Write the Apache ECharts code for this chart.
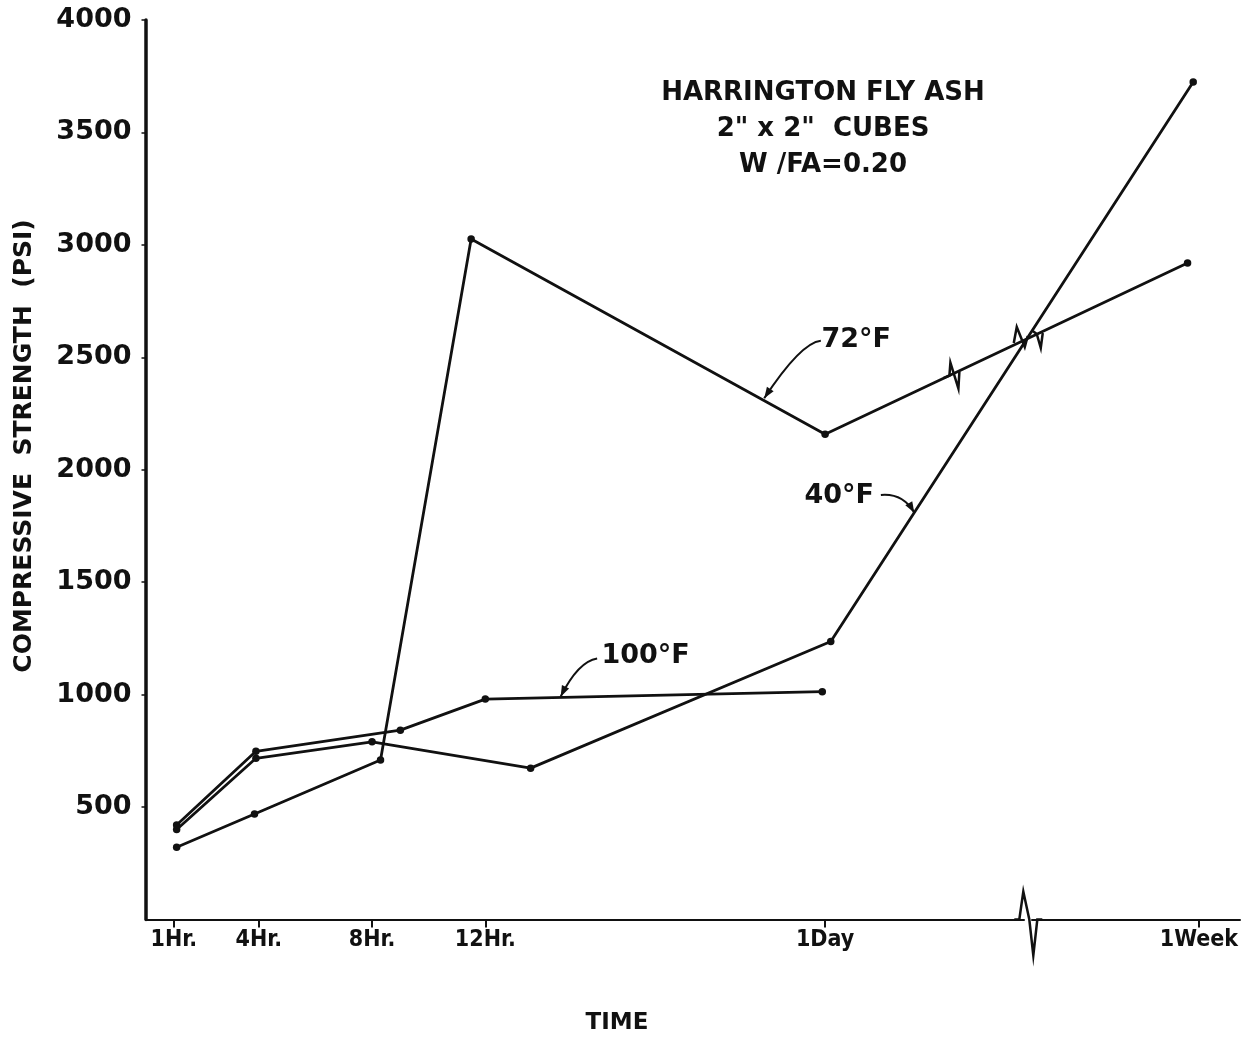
<!DOCTYPE html>
<html>
<head>
<meta charset="utf-8">
<script src="https://cdn.jsdelivr.net/npm/echarts@6/dist/echarts.min.js"></script>
<style>
html,body{margin:0;padding:0;background:#fff;}
#c{width:1241px;height:1041px;}
</style>
</head>
<body>
<div id="c"></div>
<script>
// ---- data (hours after mixing, compressive strength in psi) ----
const xTickHours = [1, 4, 8, 12, 24, 168];
const xTickLabels = ['1Hr.', '4Hr.', '8Hr.', '12Hr.', '1Day', '1Week'];
const yTicks = [500, 1000, 1500, 2000, 2500, 3000, 3500, 4000];

const hours72 = [1.1, 3.85, 8.3, 11.5, 24.0, 167.6];
const psi72   = [321, 469, 709, 3026, 2158, 2919];

const hours40 = [1.1, 3.9, 8.0, 13.6, 24.2, 167.8];
const psi40   = [400, 717, 790, 673, 1236, 3724];

const hours100 = [1.1, 3.9, 9.0, 12.0, 23.9];
const psi100   = [420, 748, 842, 980, 1013];

const titleLines = ['HARRINGTON FLY ASH', '2" x 2"  CUBES', 'W /FA=0.20'];

const FONT = "'DejaVu Sans', 'Noto Sans', sans-serif";
const FONT_C = "'DejaVu Sans Condensed', 'DejaVu Sans', sans-serif";
const INK = '#111';

const chart = echarts.init(document.getElementById('c'), null, {renderer: 'canvas'});
const pairs = (h, v) => h.map((x, i) => [x, v[i]]);
const lineBase = {
  type: 'line', symbol: 'circle', symbolSize: 7.5, showSymbol: true,
  lineStyle: {color: INK, width: 2.8}, itemStyle: {color: INK},
  emphasis: {disabled: true}, z: 3
};

chart.setOption({
  animation: false,
  backgroundColor: '#fff',
  title: {
    text: titleLines.join('\n'),
    left: 818, top: 70, textAlign: 'center',
    textStyle: {fontFamily: FONT, fontSize: 26, fontWeight: 'bold', lineHeight: 36, color: INK}
  },
  grid: {left: 145.5, right: 1, top: 20, bottom: 121.5, containLabel: false},
  xAxis: {
    type: 'value', min: 0, max: 169.45,
    breaks: [{start: 31, end: 162.1, gap: 0.3}],
    breakArea: {show: false},
    splitLine: {show: false},
    axisLine: {onZero: false, lineStyle: {color: INK, width: 2}},
    axisTick: {customValues: xTickHours, length: 8, lineStyle: {color: INK, width: 2}},
    axisLabel: {
      customValues: xTickHours,
      formatter: v => { const i = xTickHours.indexOf(v); return i >= 0 ? xTickLabels[i] : ''; },
      margin: 9, fontFamily: FONT_C, fontSize: 23, fontWeight: 'bold', color: INK
    }
  },
  yAxis: {
    type: 'value', min: 0, max: 4000, interval: 500,
    splitLine: {show: false},
    axisLine: {lineStyle: {color: INK, width: 3.5}},
    axisTick: {customValues: yTicks, length: 4, lineStyle: {color: INK, width: 1.5}},
    axisLabel: {
      customValues: yTicks, margin: 14,
      formatter: v => String(v),
      fontFamily: FONT, fontSize: 27, fontWeight: 'bold', color: INK
    }
  },
  series: [
    Object.assign({name: '72°F', data: pairs(hours72, psi72)}, lineBase),
    Object.assign({name: '40°F', data: pairs(hours40, psi40)}, lineBase),
    Object.assign({name: '100°F', data: pairs(hours100, psi100)}, lineBase)
  ]
});

// ---- annotations anchored in data space ----
const annotations = [
  {text: '72°F',  at: [25.1, 2577], from: [23.85, 2574], tip: [21.85, 2318], bend: [-20, 2]},
  {text: '40°F',  at: [24.5, 1883], from: [25.97, 1888], tip: [27.15, 1809], bend: [22, -2]},
  {text: '100°F', at: [17.66, 1172], from: [15.95, 1161], tip: [14.66, 991], bend: [-19, 3]}
];

function px(p) { return chart.convertToPixel({gridIndex: 0}, p); }

const g = [];
annotations.forEach(a => {
  const t = px(a.at), f = px(a.from), tp = px(a.tip);
  const c = [f[0] + a.bend[0], f[1] + a.bend[1]];
  g.push({type: 'text', x: t[0], y: t[1], z: 10,
    style: {text: a.text, fill: INK, font: 'bold 27px ' + FONT, align: 'center', verticalAlign: 'middle'}});
  g.push({type: 'bezierCurve', z: 10,
    shape: {x1: f[0], y1: f[1], cpx1: c[0], cpy1: c[1], x2: tp[0], y2: tp[1]},
    style: {stroke: INK, lineWidth: 2, fill: null}});
  const ang = Math.atan2(tp[1] - c[1], tp[0] - c[0]);
  const L = 11, W = 4;
  const bx = tp[0] - L * Math.cos(ang), by = tp[1] - L * Math.sin(ang);
  g.push({type: 'polygon', z: 10, shape: {points: [
    [tp[0], tp[1]],
    [bx + W * Math.sin(ang), by - W * Math.cos(ang)],
    [bx - W * Math.sin(ang), by + W * Math.cos(ang)]
  ]}, style: {fill: INK}});
});

// axis-break squiggle on the time axis
const b0 = px([31, 0]);
const xb = b0[0] + 3, y0 = b0[1];
g.push({type: 'polyline', z: 11, shape: {points: [
  [xb - 12, y0], [xb - 7, y0], [xb - 3, y0 - 28], [xb + 3, y0], [xb + 7, y0 + 36], [xb + 11, y0], [xb + 16, y0]
]}, style: {stroke: INK, lineWidth: 2.5, fill: null}});

// break marks drawn on the lines
const pM = px([hours72[4], psi72[4]]), pQ = px([hours72[5], psi72[5]]);
const tt = 0.354;
const c1 = [pM[0] + tt * (pQ[0] - pM[0]), pM[1] + tt * (pQ[1] - pM[1])];
g.push({type: 'polyline', z: 11, shape: {points: [
  [c1[0] - 10, c1[1] + 4.5], [c1[0] - 4, c1[1] + 2], [c1[0] - 3, c1[1] - 11],
  [c1[0] + 5, c1[1] + 15], [c1[0] + 6, c1[1] - 2]
]}, style: {stroke: INK, lineWidth: 2.5, fill: null}});

// crossing of 72°F and 40°F segments after 1 day
const pO = px([hours40[4], psi40[4]]), pP = px([hours40[5], psi40[5]]);
function inter(a, b, c, d) {
  const den = (a[0] - b[0]) * (c[1] - d[1]) - (a[1] - b[1]) * (c[0] - d[0]);
  const t = ((a[0] - c[0]) * (c[1] - d[1]) - (a[1] - c[1]) * (c[0] - d[0])) / den;
  return [a[0] + t * (b[0] - a[0]), a[1] + t * (b[1] - a[1])];
}
const c2 = inter(pM, pQ, pO, pP);
g.push({type: 'polyline', z: 11, shape: {points: [
  [c2[0] - 13, c2[1] + 4], [c2[0] - 10, c2[1] - 12], [c2[0] - 2, c2[1] + 8], [c2[0] + 1, c2[1] - 3]
]}, style: {stroke: INK, lineWidth: 2.5, fill: null}});
g.push({type: 'polyline', z: 11, shape: {points: [
  [c2[0] + 6, c2[1] - 8], [c2[0] + 10, c2[1] - 5], [c2[0] + 14, c2[1] + 9], [c2[0] + 16, c2[1] - 6]
]}, style: {stroke: INK, lineWidth: 2.5, fill: null}});

// axis names
g.push({type: 'text', x: 24, y: 446, rotation: Math.PI / 2, z: 10,
  style: {text: 'COMPRESSIVE  STRENGTH  (PSI)', fill: INK, font: 'bold 25px ' + FONT, align: 'center', verticalAlign: 'middle'}});
g.push({type: 'text', x: 617, y: 1023, z: 10,
  style: {text: 'TIME', fill: INK, font: 'bold 23px ' + FONT, align: 'center', verticalAlign: 'middle'}});

chart.setOption({graphic: g});
</script>
</body>
</html>
